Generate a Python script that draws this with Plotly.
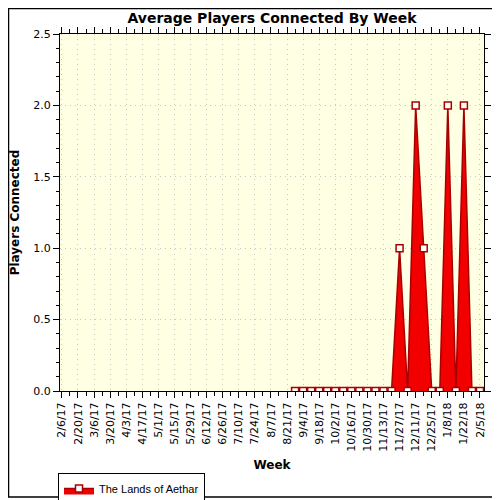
import plotly.graph_objects as go

weeks = ["2017-08-28", "2017-09-04", "2017-09-11", "2017-09-18", "2017-09-25",
         "2017-10-02", "2017-10-09", "2017-10-16", "2017-10-23", "2017-10-30",
         "2017-11-06", "2017-11-13", "2017-11-20", "2017-11-27", "2017-12-04",
         "2017-12-11", "2017-12-18", "2017-12-25", "2018-01-01", "2018-01-08",
         "2018-01-15", "2018-01-22", "2018-01-29", "2018-02-05"]
players = [0, 0, 0, 0, 0, 0, 0, 0, 0, 0, 0, 0, 0, 1, 0, 2, 1, 0, 0, 2, 0, 2, 0, 0]

tick_dates = ["2017-02-06", "2017-02-20", "2017-03-06", "2017-03-20", "2017-04-03",
              "2017-04-17", "2017-05-01", "2017-05-15", "2017-05-29", "2017-06-12",
              "2017-06-26", "2017-07-10", "2017-07-24", "2017-08-07", "2017-08-21",
              "2017-09-04", "2017-09-18", "2017-10-02", "2017-10-16", "2017-10-30",
              "2017-11-13", "2017-11-27", "2017-12-11", "2017-12-25", "2018-01-08",
              "2018-01-22", "2018-02-05"]
tick_labels = ["2/6/17", "2/20/17", "3/6/17", "3/20/17", "4/3/17", "4/17/17", "5/1/17",
               "5/15/17", "5/29/17", "6/12/17", "6/26/17", "7/10/17", "7/24/17", "8/7/17",
               "8/21/17", "9/4/17", "9/18/17", "10/2/17", "10/16/17", "10/30/17",
               "11/13/17", "11/27/17", "12/11/17", "12/25/17", "1/8/18", "1/22/18", "2/5/18"]

font = "DejaVu Sans, Liberation Sans, sans-serif"

fig = go.Figure()
fig.add_trace(go.Scatter(
    x=weeks, y=players, name="The Lands of Aethar",
    mode="lines+markers", fill="tozeroy", fillcolor="#F20000",
    line=dict(color="#A80000", width=1.5),
    marker=dict(symbol="square", size=7, color="white",
                line=dict(color="#A80000", width=1.5)),
))

# the page sits 8px in from the window corner, so the figure is 492x492
# and the plot area lands on 60..484 x 34..391 of the window
pw, ph = 424, 357
fig.add_shape(type="rect", xref="paper", yref="paper",
              x0=-51.5 / pw, x1=437 / pw, y0=-106 / ph, y1=1 + 25.5 / ph,
              line=dict(color="black", width=1.5), fillcolor="rgba(0,0,0,0)",
              layer="above")

fig.update_layout(
    width=492, height=492,
    margin=dict(l=52, r=16, t=26, b=109, autoexpand=False),
    paper_bgcolor="white", plot_bgcolor="#FFFFE4",
    font=dict(family=font, size=11, color="black"),
    title=dict(text="<b>Average Players Connected By Week</b>", x=0.5, xref="paper",
               y=1 - 10 / 492, yanchor="middle", font=dict(size=14)),
    showlegend=True,
    legend=dict(x=-2 / pw, y=-82 / ph, xanchor="left", yanchor="top",
                bordercolor="black", borderwidth=1, bgcolor="white",
                font=dict(family="Liberation Sans, Arial, sans-serif", size=11),
                itemwidth=30, tracegroupgap=0),
)
fig.update_xaxes(
    type="date", range=["2017-02-04 08:00", "2018-02-08 12:00"], automargin=False,
    tickvals=tick_dates, ticktext=tick_labels, tickangle=-90,
    ticks="outside", ticklen=6, tickcolor="black",
    minor=dict(dtick=7 * 86400000, tick0="2017-02-06", ticks="outside", ticklen=4,
               tickcolor="black", showgrid=False),
    showline=True, linecolor="black", linewidth=1, mirror="ticks",
    showgrid=True, gridcolor="#C8C8C8", griddash="1px,4px",
    title=dict(text="<b>Week</b>", font=dict(size=12), standoff=9),
)
fig.update_yaxes(
    range=[0, 2.5], dtick=0.5, tickformat=".1f", automargin=False,
    ticks="outside", ticklen=6, tickcolor="black",
    minor=dict(dtick=0.1, ticks="outside", ticklen=3, tickcolor="black", showgrid=False),
    showline=True, linecolor="black", linewidth=1, mirror="ticks",
    showgrid=True, gridcolor="#C8C8C8", griddash="1px,4px", zeroline=False,
    title=dict(text="<b>Players Connected</b>", font=dict(size=12), standoff=20),
)

fig.write_html("out.html")
